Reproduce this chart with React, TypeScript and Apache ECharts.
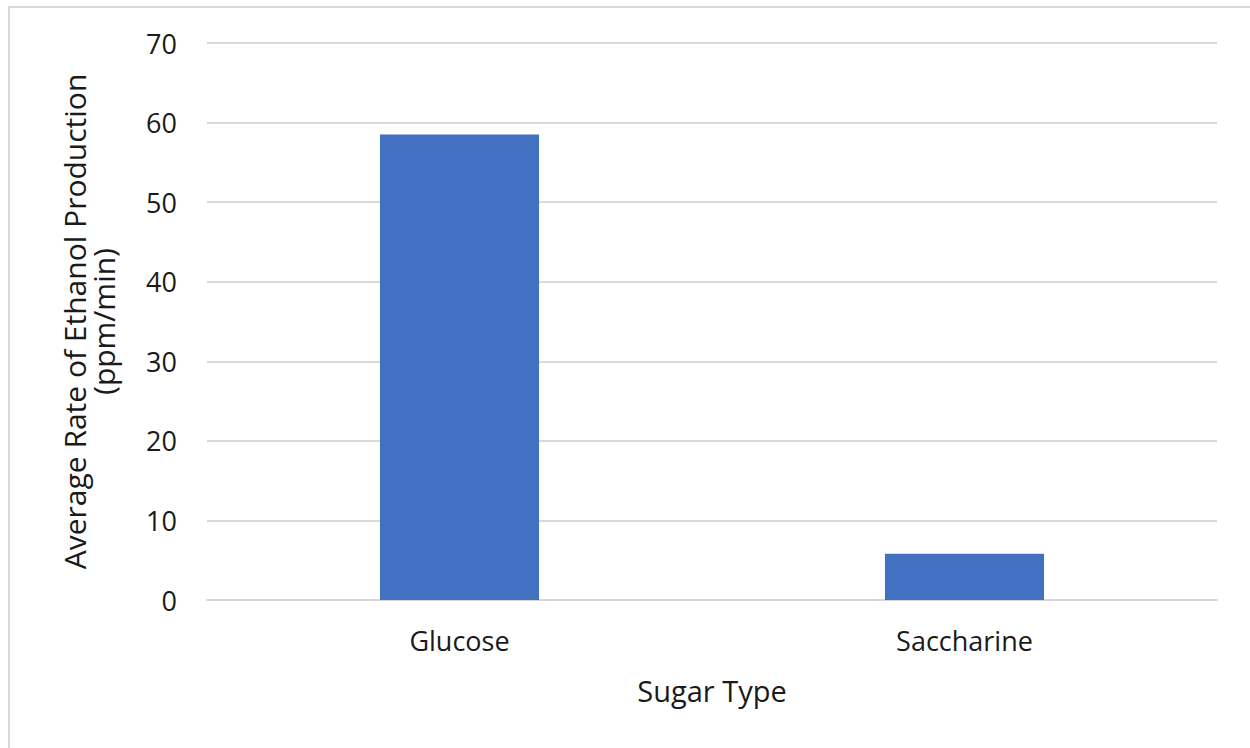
import React, { useEffect, useRef } from "react";
import * as echarts from "echarts";

const categories = ["Glucose", "Saccharine"];
const rates = [58.5, 5.8];
const yTicks = { min: 0, max: 70, interval: 10 };

export default function App() {
  const ref = useRef<HTMLDivElement>(null);
  useEffect(() => {
    document.body.style.margin = "0";
    const chart = echarts.init(ref.current!, null, { renderer: "svg" });
    const font = "'Open Sans', 'Liberation Sans', sans-serif";
    chart.setOption({
      animation: false,
      backgroundColor: "#ffffff",
      grid: { left: 207, right: 33, top: 43, bottom: 148 },
      graphic: [
        {
          type: "rect",
          shape: { x: 9, y: 7, width: 1300, height: 800 },
          style: { fill: "none", stroke: "#d9d9d9", lineWidth: 2 },
          silent: true,
        },
      ],
      xAxis: {
        type: "category",
        data: categories,
        axisLine: { show: true, lineStyle: { color: "#d9d9d9", width: 2 } },
        axisTick: { show: false },
        axisLabel: { color: "#1a1a1a", fontSize: 27, fontFamily: font, margin: 27 },
        name: "Sugar Type",
        nameLocation: "middle",
        nameGap: 76,
        nameTextStyle: { color: "#1a1a1a", fontSize: 29, fontFamily: font },
      },
      yAxis: {
        type: "value",
        min: yTicks.min,
        max: yTicks.max,
        interval: yTicks.interval,
        axisLine: { show: false },
        axisTick: { show: false },
        splitLine: { lineStyle: { color: "#d9d9d9", width: 2 } },
        axisLabel: { color: "#1a1a1a", fontSize: 27, fontFamily: font, margin: 30 },
        name: "Average Rate of Ethanol Production\n(ppm/min)",
        nameLocation: "middle",
        nameGap: 89,
        nameTextStyle: { color: "#1a1a1a", fontSize: 30, fontFamily: font, lineHeight: 29 },
      },
      series: [
        {
          type: "bar",
          data: rates,
          barWidth: "31.5%",
          itemStyle: { color: "#4171c0" },
        },
      ],
    });
    return () => chart.dispose();
  }, []);
  return <div ref={ref} style={{ width: 1250, height: 748 }} />;
}
